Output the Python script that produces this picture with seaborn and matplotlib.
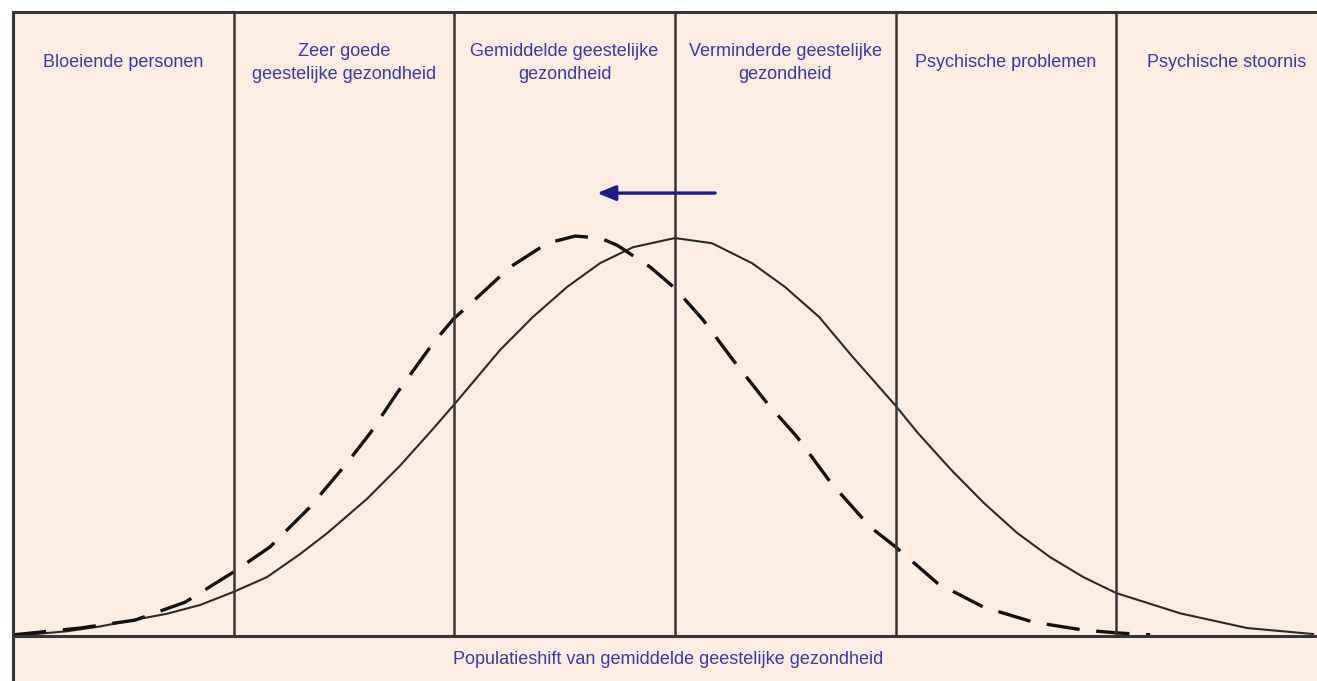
import pandas as pd
import matplotlib.pyplot as plt
import seaborn as sns

# zones (left to right) and the line along the bottom
zones = ["Bloeiende personen", "Zeer goede\ngeestelijke gezondheid",
         "Gemiddelde geestelijke\ngezondheid", "Verminderde geestelijke\ngezondheid",
         "Psychische problemen", "Psychische stoornis"]
footer = "Populatieshift van gemiddelde geestelijke gezondheid"

# current distribution (solid)
cur_x = [0.0, 0.245, 0.394, 0.544, 0.698, 0.848, 1.0, 1.151, 1.301, 1.423, 1.605,
         1.754, 1.890, 2.0, 2.208, 2.357, 2.511, 2.661, 2.810, 3.0, 3.168,
         3.349, 3.499, 3.653, 3.803, 4.0, 4.098, 4.248, 4.397, 4.551, 4.701,
         4.851, 5.0, 5.290, 5.594, 5.893]
cur_y = [0.0, 1.2, 2.4, 4.0, 5.6, 7.8, 11.1, 14.8, 20.6, 25.8, 34.5,
         42.8, 51.2, 58.2, 71.9, 80.2, 87.7, 93.7, 97.7, 100.0, 98.7,
         93.7, 87.7, 80.2, 70.3, 57.9, 51.2, 42.0, 33.6, 25.9, 19.8,
         14.8, 10.8, 5.7, 2.0, 0.5]

# shifted distribution (dashed)
new_x = [0.0, 0.304, 0.553, 0.780, 1.0, 1.165, 1.346, 1.514, 1.619, 1.741, 1.904,
         2.0, 2.058, 2.253, 2.421, 2.548, 2.661, 2.738, 2.888, 3.0, 3.128,
         3.264, 3.418, 3.554, 3.704, 3.885, 4.0, 4.189, 4.397, 4.624, 4.851,
         5.0, 5.154]
new_y = [0.3, 2.0, 4.0, 8.5, 16.1, 22.4, 32.4, 43.5, 51.0, 61.1, 73.6,
         79.9, 82.7, 92.7, 98.7, 100.5, 100.0, 98.2, 92.7, 87.4, 79.4,
         69.3, 58.5, 50.0, 38.7, 27.4, 22.4, 13.3, 7.3, 3.5, 1.5,
         0.8, 0.3]

boundaries = [1, 2, 3, 4, 5]

bg = "#fbede2"
edge = "#3a3535"
txt = "#3a3aa8"

sns.set_style("white")
plt.rcParams["font.family"] = ["Liberation Sans", "DejaVu Sans"]

fig = plt.figure(figsize=(13.17, 6.81), dpi=100)
ax = fig.add_axes([13 / 1317, 0, 1 - 13 / 1317, 1 - 12 / 681])
ax.set_facecolor(bg)

ytop = 156.8
ax.set_xlim(0, 5.91)
ax.set_ylim(-11.3, ytop)

cur = pd.DataFrame({"x": cur_x, "y": cur_y})
new = pd.DataFrame({"x": new_x, "y": new_y})
sns.lineplot(data=cur, x="x", y="y", ax=ax, color="#2a2a2a", linewidth=1.5,
             sort=False, estimator=None)
sns.lineplot(data=new, x="x", y="y", ax=ax, color="#111111", linewidth=2.4,
             linestyle=(0, (10, 5)), sort=False, estimator=None)

ax.vlines(boundaries, 0, ytop, color=edge, linewidth=1.8)
ax.axhline(0, color=edge, linewidth=2.2)

for i, lab in enumerate(zones):
    ax.text(i + 0.5, 144, lab, ha="center", va="center", color=txt,
            fontsize=13, linespacing=1.45)

ax.text(2.97, -6.0, footer, ha="center", va="center", color=txt, fontsize=13)

ax.annotate("", xy=(2.647, 111.3), xytext=(3.182, 111.3),
            arrowprops=dict(arrowstyle="-|>,head_length=1.1,head_width=0.45",
                            color="#1c1c8a", linewidth=2.4, shrinkA=0, shrinkB=0))

ax.set_xticks([])
ax.set_yticks([])
ax.set_xlabel("")
ax.set_ylabel("")
for side in ["right", "bottom"]:
    ax.spines[side].set_visible(False)
for side in ["left", "top"]:
    ax.spines[side].set_color(edge)
    ax.spines[side].set_linewidth(2.2)

fig.savefig("out.png", dpi=100, facecolor="white")
